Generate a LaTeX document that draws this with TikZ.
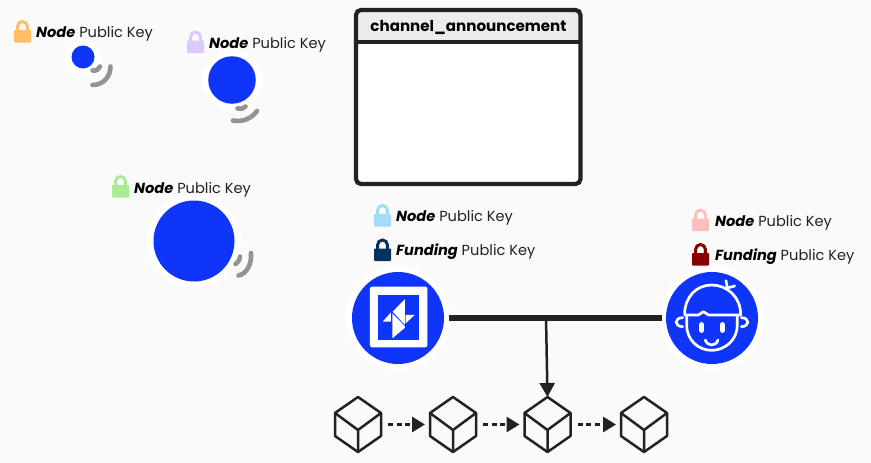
\documentclass[tikz,border=0pt]{standalone}
\usepackage{fontspec}
\setmainfont{Poppins}
\usetikzlibrary{arrows.meta}
\definecolor{bg}{HTML}{FAFAFA}
\definecolor{ink}{HTML}{222222}
\definecolor{nodeblue}{HTML}{1035FA}
\definecolor{wavegray}{HTML}{939393}
\definecolor{headgray}{HTML}{ECECEC}
\newcommand{\nk}{\textbf{\textit{Node}} \textcolor{ink}{Public Key}}
\newcommand{\fk}{\textbf{\textit{Funding}} \textcolor{ink}{Public Key}}
\tikzset{
  keylabel/.style={anchor=base west,inner sep=0pt,font=\fontsize{14.6}{16}\selectfont},
  halo/.style={circle,fill=white,draw=none,minimum size=#1,inner sep=0pt,outer sep=0pt},
  disc/.style={circle,fill=nodeblue,draw=none,minimum size=#1,inner sep=0pt,outer sep=0pt},
  wave/.style={draw=wavegray,line width=4.6pt,line cap=round},
  bar/.style={draw=ink,line width=6.5pt,shorten <=-1pt,shorten >=-2pt},
  drop/.style={draw=ink,line width=2.5pt,-{Triangle[length=14pt,width=15pt,inset=0pt]}},
  chain/.style={draw=ink,line width=3pt,dash pattern=on 5pt off 3.6pt,-{Triangle[length=13pt,width=15pt,inset=0pt]},shorten <=7pt,shorten >=5pt},
  cubeline/.style={draw=ink,line width=2.5pt,line join=round},
  cubebox/.style={draw=none,minimum width=46pt,minimum height=55pt,inner sep=0pt,outer sep=0pt},
  iconline/.style={draw=white,line width=2.7pt,line cap=round,line join=round},
  lock/.pic={
    \draw[#1,line width=3pt] (3.6,11) -- (3.6,6.4) arc[start angle=180,end angle=360,radius=4.9] -- (13.4,11);
    \fill[#1,rounded corners=0.8pt] (0,10) rectangle (17,22.5);
  },
  cube/.pic={
    \draw[cubeline] (0,-27.5) -- (23,-11.5) -- (23,11.5) -- (0,27.5) -- (-23,11.5) -- (-23,-11.5) -- cycle;
    \draw[cubeline] (-23,-11.5) -- (0,5.5) -- (23,-11.5) (0,5.5) -- (0,27.5);
  }
}
\begin{document}
\begin{tikzpicture}[x=1pt,y=-1pt]
\useasboundingbox (0,0) rectangle (871,463);
\fill[bg] (0,0) rectangle (871,463);

% announcement box
\fill[white,rounded corners=5pt] (356,9) rectangle (581,185);
\fill[headgray] (356,9) rectangle (581,42);
\draw[ink,line width=4.2pt,rounded corners=5pt] (356,10) rectangle (580.5,184);
\draw[ink,line width=3.2pt] (356,42) -- (581,42);
\node[inner sep=0pt,font=\fontsize{15.1}{18}\selectfont\bfseries] (title) at (468.5,27) {channel\_announcement};

% nodes
\node[halo=36pt] (h1) at (83,57) {};
\node[disc=23pt] (c1) at (83,57) {};
\node[halo=61pt] (h2) at (232,80) {};
\node[disc=47.5pt] (c2) at (232,80) {};
\node[halo=94pt] (h3) at (194,241) {};
\node[disc=81pt] (c3) at (194,241) {};
\node[halo=104pt] (h4) at (398,318) {};
\node[disc=92pt] (c4) at (398,318) {};
\node[halo=104pt] (h5) at (712,318) {};
\node[disc=92pt] (c5) at (712,318) {};

% waves
\draw[wave] (92.5,70.5) .. controls (96,71) and (99,69.5) .. (100,66.5);
\draw[wave] (92.5,85) .. controls (103,85) and (110.5,77) .. (110.5,66.5);
\draw[wave] (237.5,108.5) .. controls (240.5,109.5) and (243.5,108.5) .. (245.5,106.5);
\draw[wave] (233,120.5) .. controls (243,122.5) and (252,118) .. (257,111);
\draw[wave] (235.5,264) .. controls (238,263) and (239.5,260) .. (240,256.5);
\draw[wave] (238.5,275.5) .. controls (246,274) and (252,265) .. (251,253);

% locks and labels
\pic at (14,20) {lock={color={rgb,255:red,255;green,190;blue,100}}};
\pic at (187,30.5) {lock={color={rgb,255:red,218;green,201;blue,255}}};
\pic at (112,175) {lock={color={rgb,255:red,170;green,236;blue,150}}};
\pic at (374,204) {lock={color={rgb,255:red,165;green,220;blue,245}}};
\pic at (374,238.5) {lock={color={rgb,255:red,5;green,50;blue,90}}};
\pic at (692,208.5) {lock={color={rgb,255:red,255;green,190;blue,190}}};
\pic at (692,243) {lock={color={rgb,255:red,135;green,0;blue,0}}};
\node[keylabel] (k1) at (36,37) {\nk};
\node[keylabel] (k2) at (209,48) {\nk};
\node[keylabel] (k3) at (134,193) {\nk};
\node[keylabel] (k4) at (396,221) {\nk};
\node[keylabel] (k5) at (396,255) {\fk};
\node[keylabel] (k6) at (715,226) {\nk};
\node[keylabel] (k7) at (715,260) {\fk};

% left icon
\begin{scope}[shift={(340,270)},x=0.3333pt,y=-0.3333pt]
  \fill[white,rounded corners=2pt] (90,50) rectangle (262,232);
  \fill[nodeblue] (113,75) rectangle (237,210);
  \fill[white] (158,125) -- (195,87) -- (195,165) -- cycle;
  \fill[white] (157,130) -- (195,169) -- (195,173) -- (157,205) -- cycle;
  \fill[white] (128,155) -- (153,127) -- (153,155) -- cycle;
  \fill[white] (197,135) -- (224,135) -- (197,160) -- cycle;
\end{scope}

% right icon
\begin{scope}[shift={(650,200)},x=0.3333pt,y=-0.3333pt]
  \draw[iconline] (104,343) .. controls (104,290) and (140,255) .. (185,255) .. controls (230,255) and (272,290) .. (272,343);
  \draw[iconline] (104,345) -- (145,345) -- (160,335) -- (176,345) -- (272,345);
  \draw[iconline] (110,350) -- (110,375) .. controls (110,420) and (145,451) .. (185,451) .. controls (225,451) and (262,420) .. (262,375) -- (262,350);
  \draw[iconline] (98,353) .. controls (72,353) and (72,380) .. (98,380);
  \draw[iconline] (274,353) .. controls (300,353) and (300,380) .. (274,380);
  \draw[white,line width=5.2pt,line cap=round] (155,374) -- (155,391);
  \draw[white,line width=5.2pt,line cap=round] (217,374) -- (217,391);
  \draw[iconline] (166,420) .. controls (172,440) and (198,440) .. (204,420);
  \draw[iconline] (228,242) -- (232,264) -- (254,258);
\end{scope}

% channel
\draw[bar] (h4) -- (h5);
\coordinate (tap) at (546,317);

% blocks
\node[cubebox] (b1) at (358,424.5) {};
\node[cubebox] (b2) at (453,424.5) {};
\node[cubebox] (b3) at (547.5,424.5) {};
\node[cubebox] (b4) at (644,424.5) {};
\pic at (b1) {cube};
\pic at (b2) {cube};
\pic at (b3) {cube};
\pic at (b4) {cube};
\draw[chain] (b1) -- (b2);
\draw[chain] (b2) -- (b3);
\draw[chain] (b3) -- (b4);
\draw[drop] (tap) -- (b3.north);
\end{tikzpicture}
\end{document}
